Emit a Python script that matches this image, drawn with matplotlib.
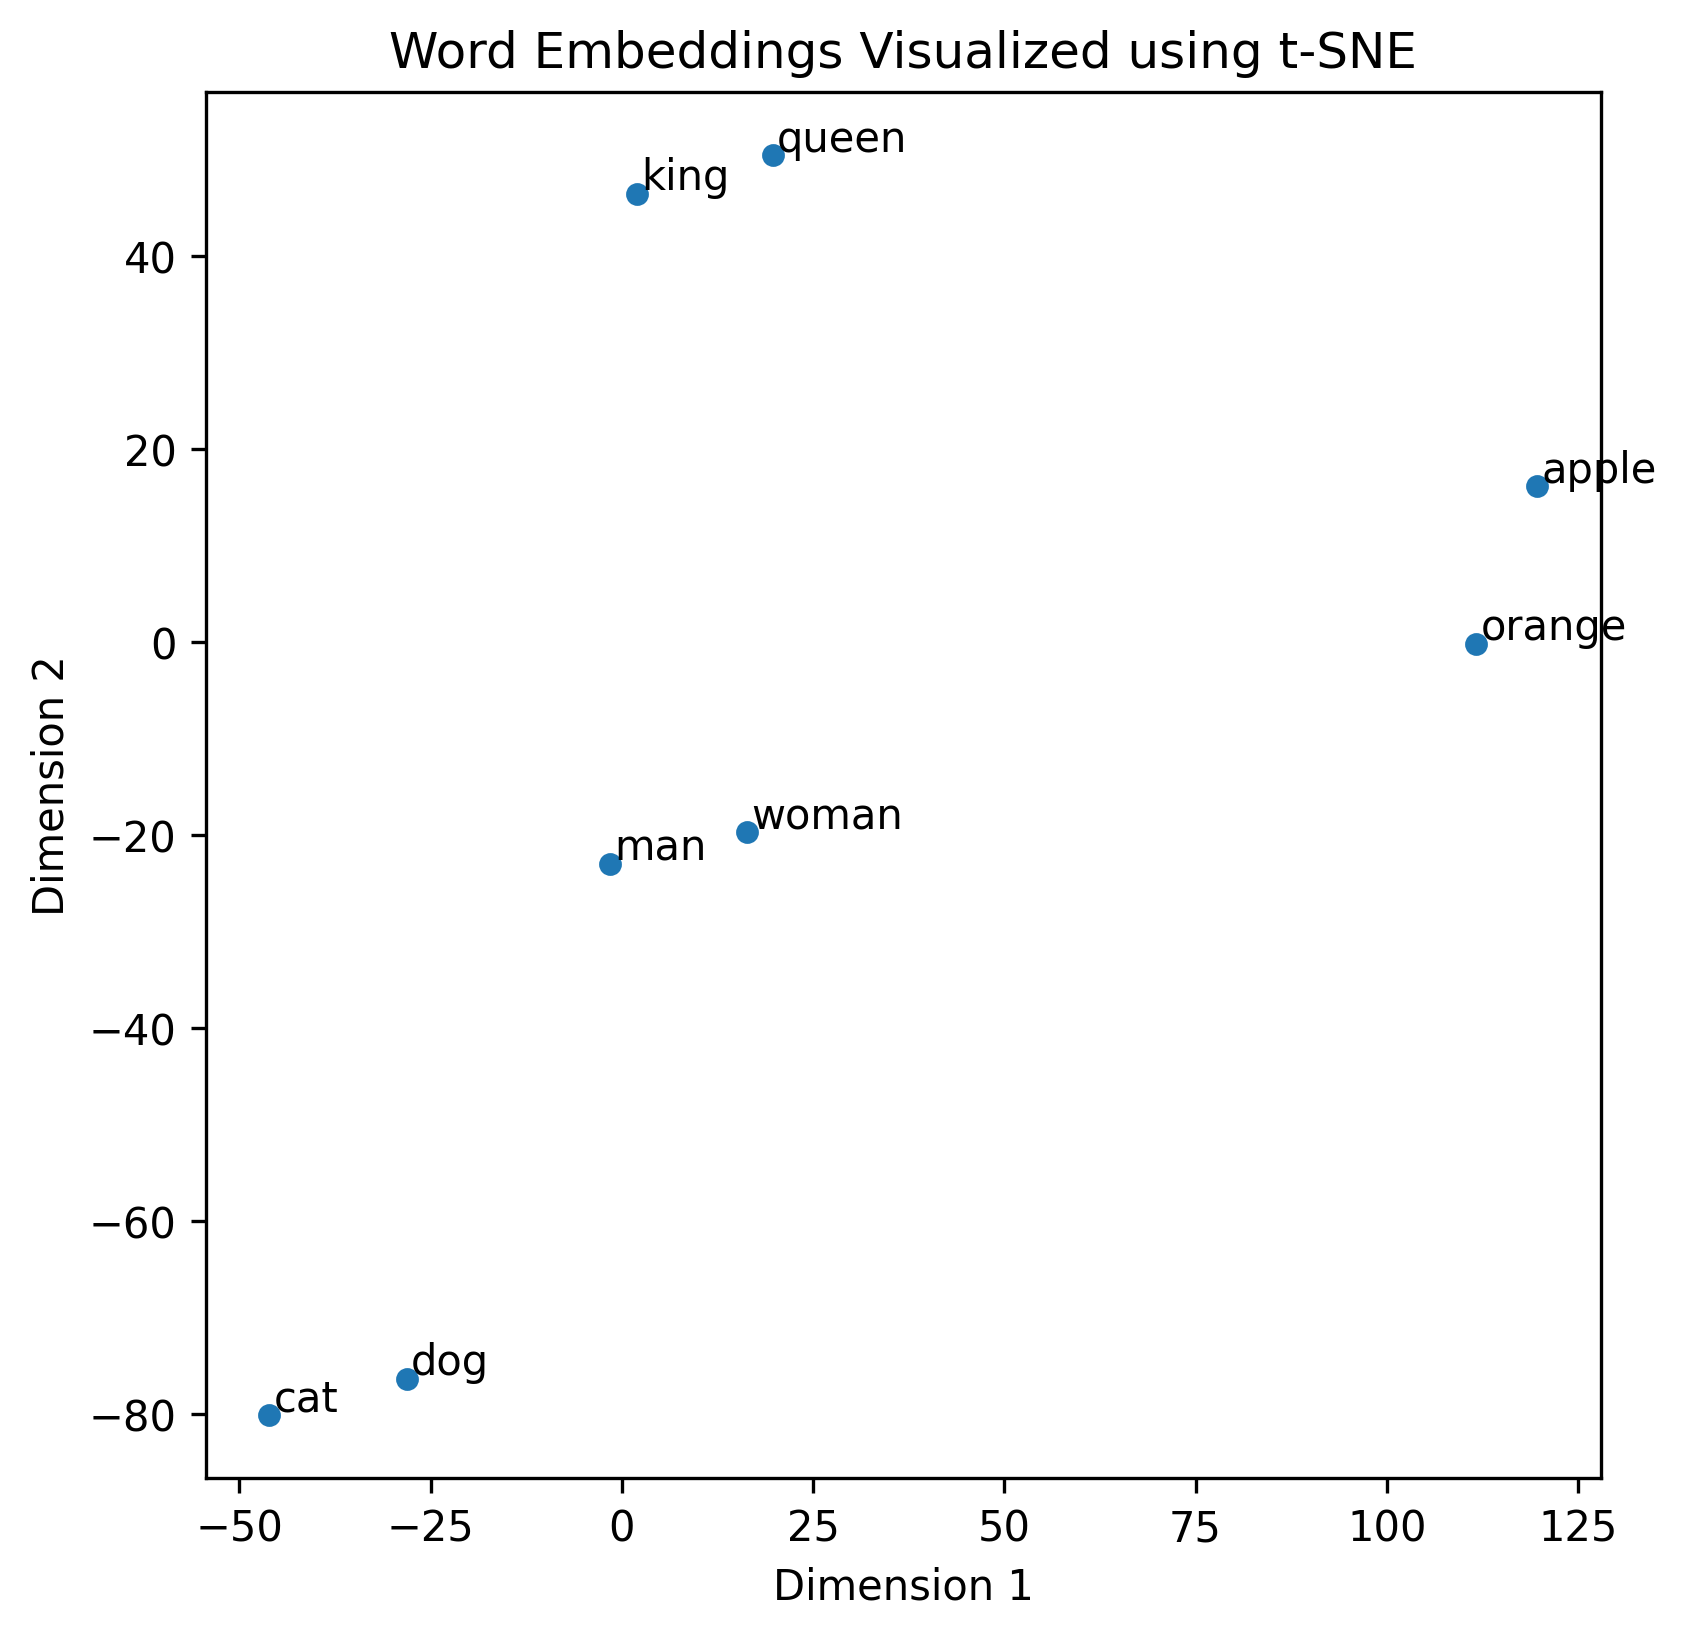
import matplotlib
matplotlib.use("Agg")
import matplotlib.pyplot as plt

words = ["king", "queen", "man", "woman", "apple", "orange", "dog", "cat"]
dim1 = [2.0, 19.7, -1.5, 16.4, 119.7, 111.7, -28.1, -46.1]
dim2 = [46.5, 50.5, -23.0, -19.7, 16.2, -0.15, -76.3, -80.1]

fig = plt.figure(figsize=(6, 6))
plt.scatter(dim1, dim2, s=20)
for w, x, y in zip(words, dim1, dim2):
    plt.annotate(w, (x, y), xytext=(1, 1), textcoords="offset points")
plt.title("Word Embeddings Visualized using t-SNE")
plt.xlabel("Dimension 1")
plt.ylabel("Dimension 2")
plt.savefig("out.png", dpi=300, bbox_inches="tight")
